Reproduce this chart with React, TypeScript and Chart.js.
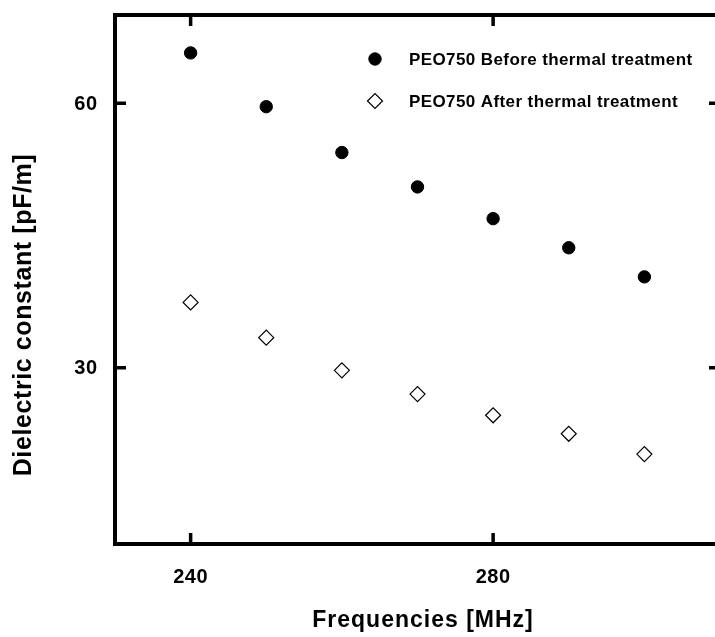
import React, { useEffect, useRef } from "react";
import { Chart, registerables } from "chart.js";

Chart.register(...registerables);

const frequencies = [240, 250, 260, 270, 280, 290, 300];
const beforeValues = [65.7, 59.6, 54.4, 50.5, 46.9, 43.6, 40.3];
const afterValues = [37.4, 33.4, 29.7, 27.0, 24.6, 22.5, 20.2];
const seriesLabels = ["PEO750 Before thermal treatment", "PEO750 After thermal treatment"];
const xTicks = [240, 280];
const yTicks = [30, 60];
const xTitle = "Frequencies [MHz]";
const yTitle = "Dielectric constant [pF/m]";

const FONT = "'Liberation Sans', Arial, sans-serif";

const framePlugin = {
  id: "frame",
  afterDraw(chart: any) {
    const { ctx, chartArea } = chart;
    const xs = chart.scales.x;
    const ys = chart.scales.y;
    const { left, right, top, bottom } = chartArea;
    ctx.save();
    ctx.strokeStyle = "#000";
    ctx.fillStyle = "#000";
    // frame
    ctx.lineWidth = 4;
    ctx.beginPath();
    ctx.moveTo(left, bottom);
    ctx.lineTo(left, top);
    ctx.lineTo(right, top);
    ctx.lineTo(right, bottom);
    ctx.lineTo(left, bottom);
    ctx.closePath();
    ctx.stroke();
    // ticks (inward)
    const tl = 11;
    ctx.lineWidth = 3.5;
    ctx.beginPath();
    xTicks.forEach((v) => {
      const px = xs.getPixelForValue(v);
      ctx.moveTo(px, top);
      ctx.lineTo(px, top + tl);
      ctx.moveTo(px, bottom);
      ctx.lineTo(px, bottom - tl);
    });
    yTicks.forEach((v) => {
      const py = ys.getPixelForValue(v);
      ctx.moveTo(left, py);
      ctx.lineTo(left + tl, py);
      ctx.moveTo(right, py);
      ctx.lineTo(right - tl, py);
    });
    ctx.stroke();
    const setSpacing = (s: number) => {
      try {
        (ctx as any).letterSpacing = `${s}px`;
      } catch (e) {}
    };
    // tick labels
    ctx.font = `bold 20px ${FONT}`;
    setSpacing(0.5);
    ctx.textAlign = "center";
    ctx.textBaseline = "alphabetic";
    xTicks.forEach((v) => {
      ctx.fillText(String(v), xs.getPixelForValue(v), 583);
    });
    ctx.textAlign = "right";
    yTicks.forEach((v) => {
      ctx.fillText(String(v), 97.5, ys.getPixelForValue(v) + 6.5);
    });
    // axis titles
    ctx.font = `bold 23px ${FONT}`;
    setSpacing(1);
    ctx.textAlign = "center";
    ctx.fillText(xTitle, 423, 626.5);
    ctx.save();
    ctx.translate(31, 315);
    ctx.rotate(-Math.PI / 2);
    ctx.font = `bold 25px ${FONT}`;
    setSpacing(0.6);
    ctx.fillText(yTitle, 0, 0);
    ctx.restore();
    // legend
    const ds = chart.data.datasets;
    const rows = [59, 101];
    ctx.font = `bold 17px ${FONT}`;
    setSpacing(0.4);
    ctx.textAlign = "left";
    ds.forEach((d: any, i: number) => {
      const cy = rows[i];
      const cx = 375;
      const r = d.pointRadius;
      ctx.lineWidth = d.pointBorderWidth;
      ctx.strokeStyle = d.pointBorderColor;
      ctx.fillStyle = d.pointBackgroundColor;
      ctx.beginPath();
      if (d.pointStyle === "circle") {
        ctx.arc(cx, cy, r, 0, Math.PI * 2);
      } else {
        ctx.moveTo(cx - r, cy);
        ctx.lineTo(cx, cy - r);
        ctx.lineTo(cx + r, cy);
        ctx.lineTo(cx, cy + r);
        ctx.closePath();
      }
      ctx.fill();
      ctx.stroke();
      ctx.fillStyle = "#000";
      ctx.fillText(d.label, 409, cy + 6);
    });
    setSpacing(0);
    ctx.restore();
  },
};

export default function App() {
  const ref = useRef<HTMLCanvasElement>(null);
  useEffect(() => {
    if (!ref.current) return;
    const chart = new Chart(ref.current, {
      type: "scatter",
      data: {
        datasets: [
          {
            label: seriesLabels[0],
            data: frequencies.map((f, i) => ({ x: f, y: beforeValues[i] })),
            pointStyle: "circle",
            pointRadius: 6.2,
            pointBorderWidth: 1,
            pointBackgroundColor: "#000",
            pointBorderColor: "#000",
            showLine: false,
          } as any,
          {
            label: seriesLabels[1],
            data: frequencies.map((f, i) => ({ x: f, y: afterValues[i] })),
            pointStyle: "rectRot",
            pointRadius: 7.5,
            pointBorderWidth: 1.2,
            pointBackgroundColor: "#fff",
            pointBorderColor: "#000",
            showLine: false,
          } as any,
        ],
      },
      options: {
        animation: false,
        responsive: false,
        devicePixelRatio: 1,
        layout: { padding: { left: 115, top: 15, right: 10, bottom: 93 } },
        plugins: { legend: { display: false }, tooltip: { enabled: false } },
        scales: {
          x: { type: "linear", min: 230, max: 310, display: false },
          y: { type: "linear", min: 10, max: 70, display: false },
        },
      },
      plugins: [framePlugin],
    });
    return () => chart.destroy();
  }, []);
  return (
    <div
      style={{
        position: "absolute",
        left: 0,
        top: 0,
        width: 715,
        height: 637,
        overflow: "hidden",
        background: "#fff",
      }}
    >
      <canvas ref={ref} width={730} height={637} style={{ display: "block" }} />
    </div>
  );
}
